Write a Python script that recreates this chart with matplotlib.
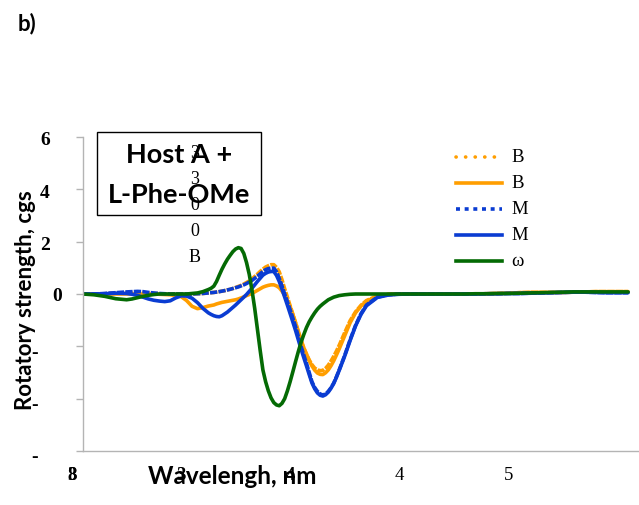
import matplotlib
matplotlib.use("Agg")
import matplotlib.pyplot as plt
from matplotlib.lines import Line2D
from matplotlib.patches import Rectangle

# Calculated rotatory strengths (cgs) against wavelength (nm);
# sampled more finely where the bands are steep
wavelength = [110, 120, 130, 140, 150,
              155, 160, 165, 170, 175, 180, 185, 190, 195, 200,
              205, 210, 215, 220, 225,
              227.5, 230, 232.5, 235, 237.5, 240, 242.5, 245, 247.5, 250,
              252.5, 255, 257.5, 260, 262.5, 265, 267.5, 270, 272.5, 275,
              277.5, 280, 282.5, 285, 287.5, 290, 292.5, 295, 297.5, 300,
              302.5, 305, 307.5, 310, 312.5, 315, 317.5, 320, 322.5, 325,
              327.5, 330, 332.5, 335, 337.5, 340, 342.5, 345,
              350, 355, 360, 365, 370,
              380, 390, 400, 410, 420, 430, 440, 450, 460, 470,
              480, 490, 500, 510, 520, 530, 540, 550, 560, 570,
              580, 590, 600, 610]

b_dotted = [0, 0, 0.01, 0.03, 0.05,
            0.055, 0.06, 0.05, 0.04, 0.02, 0.01, 0, 0, 0, 0,
            0, 0, 0.01, 0.02, 0.04,
            0.05, 0.06, 0.075, 0.09, 0.11, 0.13, 0.155, 0.18, 0.21, 0.25,
            0.29, 0.33, 0.38, 0.44, 0.5, 0.58, 0.67, 0.76, 0.86, 0.95,
            1.03, 1.08, 1.12, 1.12, 1.02, 0.85, 0.55, 0.2, -0.12, -0.45,
            -0.78, -1.1, -1.46, -1.8, -2.07, -2.3, -2.52, -2.7, -2.83, -2.9,
            -2.93, -2.92, -2.84, -2.72, -2.56, -2.38, -2.18, -1.96,
            -1.48, -1.02, -0.68, -0.43, -0.25,
            -0.07, -0.01, 0, 0, 0, 0, 0, 0, 0, 0,
            0.01, 0.02, 0.03, 0.05, 0.06, 0.06, 0.06, 0.06, 0.07, 0.08,
            0.09, 0.09, 0.09, 0.09]

b_solid = [0, 0, 0, 0, 0,
           0, 0, 0, 0, 0, -0.01, -0.02, -0.03, -0.06, -0.1,
           -0.25, -0.47, -0.56, -0.52, -0.46,
           -0.44, -0.42, -0.38, -0.35, -0.32, -0.3, -0.28, -0.26, -0.24, -0.22,
           -0.19, -0.15, -0.11, -0.06, -0.02, 0.02, 0.08, 0.14, 0.2, 0.26,
           0.3, 0.33, 0.35, 0.35, 0.31, 0.24, 0.11, -0.05, -0.25, -0.49,
           -0.78, -1.1, -1.42, -1.75, -2.05, -2.3, -2.55, -2.75, -2.91, -3.02,
           -3.07, -3.08, -3.01, -2.9, -2.74, -2.55, -2.33, -2.1,
           -1.6, -1.1, -0.72, -0.46, -0.28,
           -0.08, -0.02, 0, 0, 0, 0, 0, 0, 0, 0,
           0.01, 0.02, 0.03, 0.05, 0.06, 0.06, 0.06, 0.06, 0.07, 0.08,
           0.09, 0.09, 0.09, 0.09]

m_dotted = [0, 0, 0.02, 0.05, 0.08,
            0.09, 0.1, 0.09, 0.06, 0.04, 0.02, 0.01, 0, 0, 0,
            0, 0, 0.01, 0.02, 0.04,
            0.05, 0.06, 0.075, 0.09, 0.11, 0.13, 0.155, 0.18, 0.21, 0.24,
            0.27, 0.31, 0.35, 0.4, 0.46, 0.52, 0.6, 0.68, 0.77, 0.86,
            0.93, 0.97, 0.99, 0.99, 0.85, 0.6, 0.31, 0.0, -0.3, -0.6,
            -0.92, -1.25, -1.62, -2.0, -2.33, -2.65, -3.0, -3.35, -3.57, -3.72,
            -3.82, -3.86, -3.82, -3.72, -3.58, -3.4, -3.16, -2.9,
            -2.35, -1.75, -1.2, -0.75, -0.42,
            -0.12, -0.03, 0, 0, 0, 0, 0, 0, 0, 0,
            0.01, 0.01, 0.02, 0.02, 0.03, 0.04, 0.05, 0.06, 0.07, 0.07,
            0.06, 0.05, 0.05, 0.05]

m_solid = [0, 0, 0.01, 0.03, 0.02,
           -0.01, -0.05, -0.12, -0.19, -0.24, -0.27, -0.29, -0.26, -0.15, -0.07,
           -0.08, -0.16, -0.33, -0.55, -0.72,
           -0.78, -0.83, -0.86, -0.87, -0.83, -0.76, -0.69, -0.6, -0.51, -0.42,
           -0.32, -0.22, -0.12, -0.02, 0.1, 0.22, 0.35, 0.48, 0.6, 0.72,
           0.79, 0.84, 0.86, 0.86, 0.71, 0.48, 0.19, -0.12, -0.43, -0.75,
           -1.07, -1.4, -1.75, -2.1, -2.43, -2.75, -3.08, -3.4, -3.62, -3.78,
           -3.87, -3.9, -3.85, -3.75, -3.6, -3.42, -3.18, -2.92,
           -2.38, -1.78, -1.22, -0.78, -0.45,
           -0.13, -0.04, -0.01, 0, 0, 0, 0, 0, 0, 0,
           0.01, 0.01, 0.02, 0.02, 0.03, 0.04, 0.05, 0.06, 0.07, 0.07,
           0.06, 0.05, 0.05, 0.05]

omega = [0, -0.03, -0.09, -0.18, -0.22,
         -0.19, -0.14, -0.09, -0.05, -0.02, 0, 0, 0, 0, 0,
         0, 0.02, 0.04, 0.09, 0.17,
         0.22, 0.3, 0.48, 0.72, 0.95, 1.15, 1.33, 1.48, 1.62, 1.72,
         1.77, 1.74, 1.55, 1.2, 0.75, 0.15, -0.55, -1.35, -2.15, -2.9,
         -3.35, -3.7, -3.97, -4.15, -4.24, -4.27, -4.18, -4.0, -3.7, -3.35,
         -2.97, -2.58, -2.2, -1.85, -1.55, -1.28, -1.06, -0.88, -0.72, -0.58,
         -0.47, -0.38, -0.3, -0.22, -0.17, -0.12, -0.09, -0.06,
         -0.03, -0.01, 0, 0, 0,
         0, 0, 0, 0, 0, 0, 0, 0, 0, 0.01,
         0.01, 0.02, 0.02, 0.03, 0.04, 0.05, 0.06, 0.07, 0.08, 0.08,
         0.08, 0.08, 0.08, 0.08]

series = [b_dotted, b_solid, m_dotted, m_solid, omega]
series_labels = ['B', 'B', 'M', 'M', 'ω']

y_ticks = [-6, -4, -2, 0, 2, 4, 6]
y_tick_labels = ['-', '-', '-', '0', '2', '4', '6']
x_tick_pos = [100, 100, 200, 300, 400, 500]
x_tick_labels = ['3', '8', '3', '4', '4', '5']
stray_labels = ['3', '3', '0', '0', 'B']

ORANGE = '#FF9E00'
BLUE = '#0A3CD2'
GREEN = '#046A04'
colors = [ORANGE, ORANGE, BLUE, BLUE, GREEN]
plot_styles = [(0, (2.0, 0.35)), '-', (0, (2.0, 0.35)), '-', '-']
legend_styles = [(0, (0.05, 2.6)), '-', (0, (1.1, 1.3)), '-', '-']
legend_caps = ['round', 'butt', 'butt', 'butt', 'butt']

SANS = 'Lato'
SERIF = 'Liberation Serif'

W, H = 639, 506
fig = plt.figure(figsize=(W / 100, H / 100), dpi=100)
ax = fig.add_axes([83 / W, 1 - 452 / H, 556 / W, 314 / H])

for ys, c, ls in zip(series, colors, plot_styles):
    ax.plot(wavelength, ys, color=c, lw=2.6, ls=ls,
            solid_capstyle='round', solid_joinstyle='round')

ax.set_xlim(110, 620)
ax.set_ylim(-6, 6)
for side in ['top', 'right']:
    ax.spines[side].set_visible(False)
for side in ['left', 'bottom']:
    ax.spines[side].set_color('#B4B4B4')
    ax.spines[side].set_linewidth(1.0)
ax.set_xticks([])
ax.set_yticks(y_ticks)
ax.set_yticklabels([])
ax.tick_params(axis='y', length=5, width=1.0, color='#B4B4B4')

# hand-placed y tick labels (the minus signs sit further left)
for v, lab in zip(y_ticks, y_tick_labels):
    if lab == '-':
        dx, dy, ha = -48, -6, 'center'
    elif lab == '0':
        dx, dy, ha = -21, -2, 'right'
    else:
        dx, dy, ha = -33, -3, 'right'
    ax.annotate(lab, xy=(0, v), xycoords=('axes fraction', 'data'),
                xytext=(dx, dy), textcoords='offset pixels',
                ha=ha, va='center', fontsize=14, fontweight='bold',
                family=SERIF, annotation_clip=False)

# x labels: the first few sit on top of each other / the axis title
for i, (xp, lab) in enumerate(zip(x_tick_pos, x_tick_labels)):
    ax.annotate(lab, xy=(xp, 0), xycoords=('data', 'axes fraction'),
                xytext=(0, -24), textcoords='offset pixels',
                ha='center', va='center', fontsize=13.5,
                fontweight='bold' if i < 4 else 'normal',
                family=SERIF, annotation_clip=False)

fig.text(232 / W, 1 - 477 / H, 'Wavelengh, nm', ha='center', va='center',
         fontsize=17.5, fontweight='bold', family=SANS)
fig.text(26 / W, 1 - 300 / H, 'Rotatory strength, cgs', ha='center',
         va='center', rotation=90, fontsize=16, fontweight='bold', family=SANS)
fig.text(18 / W, 1 - 30 / H, 'b)', ha='left', va='baseline',
         fontsize=16, fontweight='bold', family=SANS)

# compound label box
fig.add_artist(Rectangle((97 / W, 1 - 216 / H), 164 / W, 83 / H,
                         transform=fig.transFigure, fill=False,
                         ec='black', lw=1.0))
for i, lab in enumerate(stray_labels):
    fig.text(195 / W, 1 - (153 + i * 26.2) / H, lab, ha='center',
             va='center', fontsize=13, family=SERIF)
fig.text(179 / W, 1 - 163 / H, 'Host A +', ha='center', va='baseline',
         fontsize=19.5, fontweight='bold', family=SANS)
fig.text(179 / W, 1 - 203 / H, 'L-Phe-OMe', ha='center', va='baseline',
         fontsize=19.5, fontweight='bold', family=SANS)

# legend
for i, lab in enumerate(series_labels):
    y = 1 - (158 + i * 26) / H
    fig.add_artist(Line2D([456 / W, 502 / W], [y, y], transform=fig.transFigure,
                          color=colors[i], lw=2.6, ls=legend_styles[i],
                          dash_capstyle=legend_caps[i]))
    fig.text(511 / W, y, lab, ha='left', va='center', fontsize=13.5,
             family=SERIF)

fig.savefig('out.png', dpi=100)
